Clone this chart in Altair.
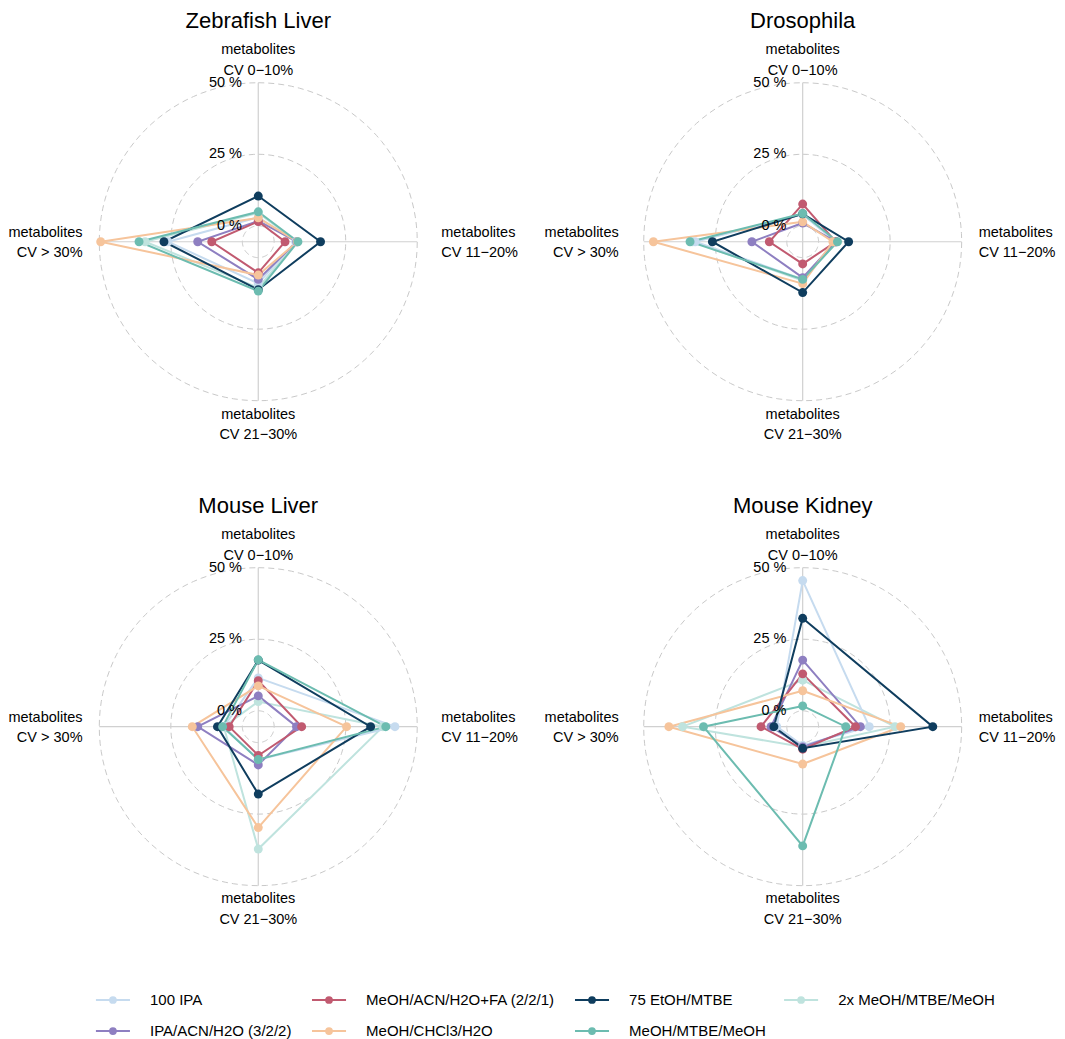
import altair as alt
import pandas as pd

# ---------------- data ----------------
SERIES = ["100 IPA", "IPA/ACN/H2O (3/2/2)", "MeOH/ACN/H2O+FA (2/2/1)", "MeOH/CHCl3/H2O",
          "75 EtOH/MTBE", "MeOH/MTBE/MeOH", "2x MeOH/MTBE/MeOH"]
COLORS = ["#c6dbef", "#8e7fc1", "#c15a70", "#f6c49b", "#0f3d5e", "#6cbcb0", "#bfe3de"]
AXIS_LABELS = ["CV 0\u221210%", "CV 11\u221220%", "CV 21\u221230%", "CV > 30%"]
PANEL_TITLES = ["Zebrafish Liver", "Drosophila", "Mouse Liver", "Mouse Kidney"]
GRID_LEVELS = [0, 25, 50]
GRID_LABELS = ["0 %", "25 %", "50 %"]

# values (% of metabolites) per series: [CV 0-10%, CV 11-20%, CV 21-30%, CV > 30%]
ZEBRAFISH_LIVER = [
    [3.0, 7.5, 9.0, 26.0],
    [1.7, 7.9, 7.6, 15.6],
    [1.5, 3.8, 5.3, 10.7],
    [2.8, 8.1, 6.1, 49.5],
    [10.4, 16.2, 11.2, 27.4],
    [4.9, 8.3, 11.7, 36.1],
    [4.5, 8.0, 10.5, 34.0],
]
DROSOPHILA = [
    [4.0, 6.0, 7.5, 32.0],
    [1.0, 6.0, 7.0, 12.2],
    [7.6, 6.0, 2.2, 6.1],
    [1.4, 5.0, 9.1, 46.6],
    [4.2, 10.5, 12.2, 26.0],
    [4.3, 6.6, 7.6, 33.8],
    [4.0, 6.3, 8.0, 33.0],
]
MOUSE_LIVER = [
    [11.5, 42.2, 6.0, 6.5],
    [5.2, 7.8, 7.8, 15.6],
    [10.5, 9.6, 4.5, 4.6],
    [8.7, 25.3, 29.7, 17.5],
    [17.7, 33.7, 18.0, 8.7],
    [17.8, 39.0, 5.9, 6.9],
    [3.2, 38.0, 37.2, 6.5],
]
MOUSE_KIDNEY = [
    [45.5, 17.7, 1.0, 3.5],
    [17.7, 14.6, 1.5, 5.5],
    [12.9, 12.9, 2.3, 9.0],
    [7.0, 28.7, 7.5, 41.2],
    [32.3, 39.9, 2.0, 4.5],
    [1.7, 9.5, 36.1, 29.1],
    [10.7, 26.7, 1.5, 36.4],
]
PANEL_DATA = [ZEBRAFISH_LIVER, DROSOPHILA, MOUSE_LIVER, MOUSE_KIDNEY]

# ---------------- layout (radius units: 1 = outer 50 % ring) ----------------
R_PX = 159.0
W, H = 1049, 1031
XMAX, YMAX = W / R_PX, H / R_PX
PANEL_CX = [1.574, 4.998]
PANEL_CY = [1.470, 4.520]
DRAW_ORDER = [6, 0, 1, 2, 3, 4, 5]
FONT = "Liberation Sans"
TITLE_DY = -1.343
LABEL_DY = {0: [-1.180, -1.048], 1: [-0.028, 0.098], 2: [1.112, 1.242], 3: [-0.028, 0.098]}
RIGHT_DX = [1.151, 1.107]     # per panel column (kept inside the page)
LEFT_DX = [-1.105, -1.157]
LEG_X = [0.553, 1.912, 3.566, 4.881]
LEG_Y = [6.239, 6.434]
LEG_LEN = 0.214
LEG_TXT = 0.340


def centre(p):
    return PANEL_CX[p % 2], PANEL_CY[p // 2]


poly_rows, grid_rows, glab_rows, spoke_rows, alab_rows, title_rows = [], [], [], [], [], []
for p, (title, table) in enumerate(zip(PANEL_TITLES, PANEL_DATA)):
    cx, cy = centre(p)
    c = p % 2
    title_rows.append(dict(text=title, cx=cx, cy=cy))
    for s in DRAW_ORDER:
        for o in range(5):
            k = o % 4
            poly_rows.append(dict(panel=title, series=SERIES[s], k=k, ord=o,
                                  value=table[s][k], cx=cx, cy=cy))
    for lv, lab in zip(GRID_LEVELS, GRID_LABELS):
        glab_rows.append(dict(text=lab, level=lv, cx=cx, cy=cy))
        for deg in range(0, 361, 3):
            grid_rows.append(dict(gid=f"{title}-{lv}", level=lv, deg=deg, cx=cx, cy=cy))
    offs = {0: (0.0, "center"), 1: (RIGHT_DX[c], "left"), 2: (0.0, "center"), 3: (LEFT_DX[c], "right")}
    for k in range(4):
        spoke_rows.append(dict(k=k, cx=cx, cy=cy))
        dx, al = offs[k]
        for line, dy in zip(["metabolites", AXIS_LABELS[k]], LABEL_DY[k]):
            alab_rows.append(dict(text=line, x=cx + dx, y=cy + dy, align=al))

leg_rows = []
for i, name in enumerate(SERIES):
    cc, r = i // 2, i % 2
    leg_rows.append(dict(series=name, lx=LEG_X[cc], ly=LEG_Y[r]))

poly = pd.DataFrame(poly_rows)
grid = pd.DataFrame(grid_rows)
glab = pd.DataFrame(glab_rows)
spokes = pd.DataFrame(spoke_rows)
alab = pd.DataFrame(alab_rows)
titles = pd.DataFrame(title_rows)
leg = pd.DataFrame(leg_rows)

xs = alt.Scale(domain=[0, XMAX], nice=False, zero=False)
ys = alt.Scale(domain=[0, YMAX], nice=False, zero=False, reverse=True)
X = lambda f: alt.X(f, scale=xs, axis=None)
Y = lambda f: alt.Y(f, scale=ys, axis=None)
col = alt.Color("series:N", scale=alt.Scale(domain=SERIES, range=COLORS), legend=None)

RADIUS = "0.1 + 0.9 * datum.{f} / 50"

grid_layer = alt.Chart(grid).transform_calculate(
    r=RADIUS.format(f="level")
).transform_calculate(
    x="datum.cx + datum.r * sin(datum.deg * PI / 180)",
    y="datum.cy - datum.r * cos(datum.deg * PI / 180)",
).mark_line(color="#c9c9c9", strokeWidth=1, strokeDash=[6, 4]).encode(
    x=X("x:Q"), y=Y("y:Q"), detail="gid:N", order="deg:Q"
)

spoke_layer = alt.Chart(spokes).transform_calculate(
    x="datum.cx", y="datum.cy",
    x2="datum.cx + sin(datum.k * PI / 2)",
    y2="datum.cy - cos(datum.k * PI / 2)",
).mark_rule(color="#d0d0d0", strokeWidth=1.2).encode(
    x=X("x:Q"), y=Y("y:Q"), x2="x2:Q", y2="y2:Q"
)

poly_base = alt.Chart(poly).transform_calculate(
    r=RADIUS.format(f="value")
).transform_calculate(
    x="datum.cx + datum.r * sin(datum.k * PI / 2)",
    y="datum.cy - datum.r * cos(datum.k * PI / 2)",
)
line_layer = poly_base.mark_line(strokeWidth=2).encode(
    x=X("x:Q"), y=Y("y:Q"), color=col, detail="panel:N", order="ord:Q"
)
point_layer = poly_base.transform_filter("datum.ord < 4").mark_point(
    filled=True, size=80, opacity=1
).encode(x=X("x:Q"), y=Y("y:Q"), color=col)

glab_layer = alt.Chart(glab).transform_calculate(
    x="datum.cx - 0.1025",
    y="datum.cy - (" + RADIUS.format(f="level") + ")",
).mark_text(align="right", baseline="middle", fontSize=14.5, font=FONT, color="black").encode(
    x=X("x:Q"), y=Y("y:Q"), text="text:N"
)

alab_layers = [
    alt.Chart(alab[alab["align"] == al]).mark_text(
        align=al, baseline="alphabetic", fontSize=14.5, font=FONT, color="black"
    ).encode(x=X("x:Q"), y=Y("y:Q"), text="text:N")
    for al in ["center", "left", "right"]
]

title_layer = alt.Chart(titles).transform_calculate(
    x="datum.cx", y=f"datum.cy + ({TITLE_DY})"
).mark_text(align="center", baseline="alphabetic", fontSize=22, font=FONT, color="black").encode(
    x=X("x:Q"), y=Y("y:Q"), text="text:N"
)

leg_base = alt.Chart(leg).transform_calculate(
    x2=f"datum.lx + {LEG_LEN}",
    xm=f"datum.lx + {LEG_LEN / 2}",
    xt=f"datum.lx + {LEG_TXT}",
)
leg_rule = leg_base.mark_rule(strokeWidth=2).encode(
    x=X("lx:Q"), x2="x2:Q", y=Y("ly:Q"), color=col
)
leg_pt = leg_base.mark_point(filled=True, size=60, opacity=1).encode(
    x=X("xm:Q"), y=Y("ly:Q"), color=col
)
leg_txt = leg_base.mark_text(align="left", baseline="middle", fontSize=15, font=FONT,
                             color="black").encode(
    x=X("xt:Q"), y=Y("ly:Q"), text="series:N"
)

chart = alt.layer(
    grid_layer, spoke_layer, line_layer, point_layer, glab_layer, *alab_layers,
    title_layer, leg_rule, leg_pt, leg_txt
).properties(
    width=W, height=H, padding=0, autosize=alt.AutoSizeParams(type="none"),
    background="white",
).configure_view(stroke=None)

chart.save("out.html", embed_options={"renderer": "svg", "actions": False})
